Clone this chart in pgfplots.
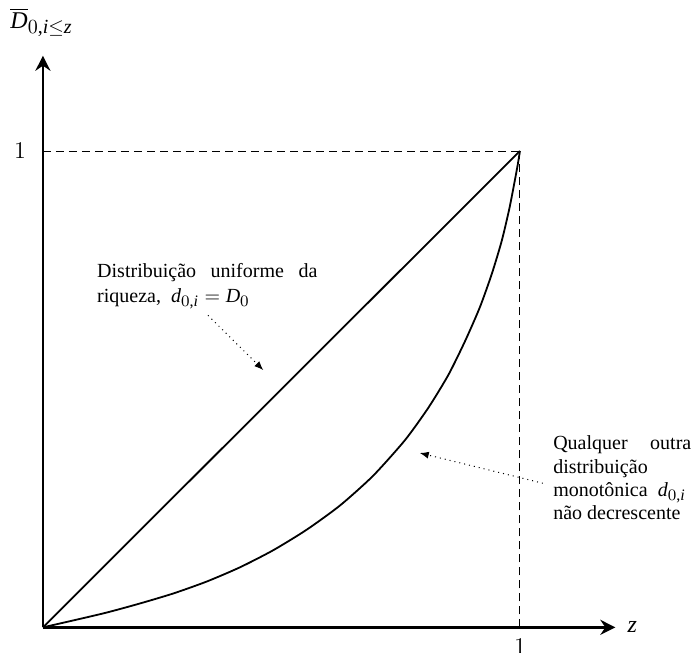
\documentclass[border=0pt]{standalone}
\usepackage{fontspec}
\setmainfont{Liberation Serif}
\usepackage[italic]{mathastext}
\usepackage{pgfplots}
\pgfplotsset{compat=1.18}
\usetikzlibrary{arrows.meta}

\pgfplotstableread{
x y
0 0
0.0636 0.0145
0.1335 0.031
0.203 0.050
0.273 0.071
0.343 0.096
0.413 0.126
0.483 0.162
0.553 0.205
0.623 0.256
0.692 0.318
0.759 0.393
0.808 0.461
0.850 0.530
0.885 0.601
0.916 0.672
0.941 0.742
0.962 0.812
0.978 0.880
0.990 0.942
0.996 0.975
1 1
}\curvedata

\begin{document}
\begin{tikzpicture}
\begin{axis}[
  scale only axis, width=286pt, height=285.6pt,
  xmin=0, xmax=1.2, ymin=0, ymax=1.2,
  axis lines=left,
  axis line style={line width=1.4pt, -{Stealth[length=7.5pt,width=7.5pt,inset=2.5pt]}},
  xtick={1}, ytick={1},
  major tick length=0pt,
  ticklabel style={font=\fontsize{11.5}{12}\selectfont},
  yticklabel style={xshift=-5pt},
  xticklabel style={yshift=-2.5pt},
  clip=false,
]
\addplot[line width=0.45pt, dash pattern=on 4pt off 2.5pt] coordinates {(0,1) (1,1)};
\addplot[line width=0.45pt, dash pattern=on 4pt off 2.5pt] coordinates {(1,0) (1,1)};
\addplot[line width=0.9pt] coordinates {(0,0) (1,1)};
\addplot[line width=0.9pt, smooth, tension=0.4] table {\curvedata};
\addplot[line width=0.5pt, dotted, -{Latex[length=4.5pt,width=3.5pt]}] coordinates {(0.346,0.655) (0.462,0.540)};
\addplot[line width=0.5pt, dotted, -{Latex[length=4.5pt,width=3.5pt]}] coordinates {(1.048,0.3025) (0.790,0.366)};

\node[anchor=base west, inner sep=0pt, font=\fontsize{10}{12}\selectfont] at (axis cs:0.113,0.735) {\makebox[110pt][s]{Distribuição uniforme da}};
\node[anchor=base west, inner sep=0pt, font=\fontsize{10}{12}\selectfont] at (axis cs:0.113,0.681) {riqueza,\ \ $d_{0,i} = D_0$};

\node[anchor=base west, inner sep=0pt, font=\fontsize{10}{12}\selectfont] at (axis cs:1.069,0.374) {\makebox[69pt][s]{Qualquer outra}};
\node[anchor=base west, inner sep=0pt, font=\fontsize{10}{12}\selectfont] at (axis cs:1.069,0.3235) {distribuição};
\node[anchor=base west, inner sep=0pt, font=\fontsize{10}{12}\selectfont] at (axis cs:1.069,0.275) {monotônica\ \ $d_{0,i}$};
\node[anchor=base west, inner sep=0pt, font=\fontsize{10}{12}\selectfont] at (axis cs:1.069,0.227) {não decrescente};

\node[anchor=base west, inner sep=0pt, font=\fontsize{12}{14}\selectfont] at (axis cs:-0.069,1.258) {$\overline{D}_{0,i\leq z}$};
\node[anchor=west, inner sep=0pt, font=\fontsize{12}{14}\selectfont] at (axis cs:1.225,0) {$z$};

\coordinate (bl) at (axis cs:-0.090,-0.0525);
\coordinate (tr) at (axis cs:1.367,1.317);
\end{axis}
\pgfresetboundingbox
\path (bl) rectangle (tr);
\end{tikzpicture}
\end{document}
